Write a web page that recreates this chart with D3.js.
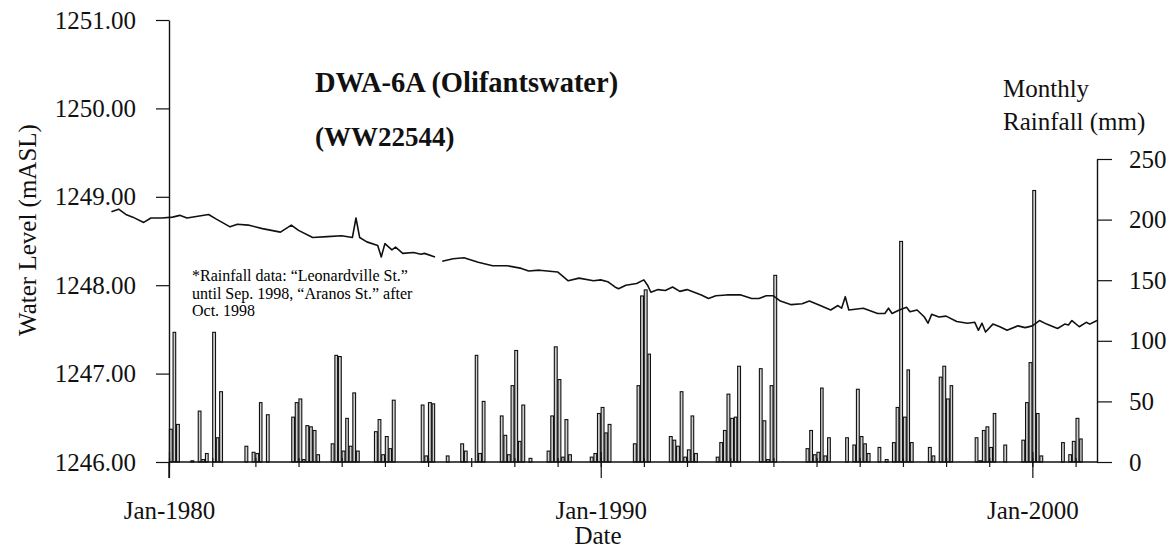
<!DOCTYPE html>
<html>
<head>
<meta charset="utf-8">
<title>DWA-6A (Olifantswater)</title>
<style>
  body { margin: 0; background: #fff; }
  svg text { font-family: "Liberation Serif", "DejaVu Serif", serif; fill: #111; }
</style>
</head>
<body>
<svg width="1176" height="551"></svg>
<script src="https://d3js.org/d3.v7.min.js"></script>
<script>

// monthly rainfall (mm), one row per year, Jan..Dec, starting Jan 1980
var rainStart = "1980-01";
var rainfall = [
  27,107, 31,  0,  0,  0,  1,  0, 42,  2,  7,  0,   // 1980
 107, 20, 58,  0,  0,  0,  0,  0,  0, 13,  0,  8,   // 1981
   7, 49,  0, 39,  0,  0,  0,  0,  0,  0, 37, 49,   // 1982
  52,  2, 30, 29, 26,  6,  0,  0,  0, 15, 88, 87,   // 1983
   9, 36, 13, 57,  9,  0,  0,  0,  0, 25, 35,  6,   // 1984
  21, 11, 51,  0,  0,  0,  0,  0,  0,  0, 47,  5,   // 1985
  49, 48,  0,  0,  0,  5,  0,  0,  0, 15,  9,  0,   // 1986
   0, 88,  7, 50,  0,  0,  0,  0, 38, 22,  6, 63,   // 1987
  92, 17, 47,  0,  3,  0,  0,  0,  0,  9, 38, 95,   // 1988
  68,  4, 35,  6,  0,  0,  0,  0,  0,  4,  7, 40,   // 1989
  45, 24, 31,  0,  0,  0,  0,  0,  0, 15, 63,137,   // 1990
 142, 89,  0,  0,  0,  0,  0, 21, 18, 13, 58,  4,   // 1991
  10, 38,  7,  0,  0,  0,  0,  0,  4, 16, 26, 56,   // 1992
  36, 37, 79,  0,  0,  0,  0,  0, 77, 34,  2, 63,   // 1993
 154,  0,  0,  0,  0,  0,  0,  0,  0, 11, 26,  6,   // 1994
   8, 61,  5, 20,  0,  0,  0,  0, 20,  0, 14, 60,   // 1995
  21, 15,  7,  0,  0, 12,  0,  2,  0, 16, 45,182,   // 1996
  37, 76, 16,  0,  0,  0,  0, 12,  5,  0, 70, 79,   // 1997
  52, 63,  0,  0,  0,  0,  0,  0, 20,  1, 26, 29,   // 1998
  12, 40,  0,  0, 14,  0,  0,  0,  0, 18, 49, 82,   // 1999
 224, 40,  5,  0,  0,  0,  0,  0, 16,  0,  6, 17,   // 2000
  36, 19,  0,  0,  0,  0                            // 2001
];

// water level (mASL); null = no reading
var levelDates = [
  "1978-09","1978-11","1979-01","1979-03","1979-06","1979-08","1979-11",
  "1980-02","1980-04","1980-06","1980-09","1980-12","1981-02","1981-06","1981-08","1981-11",
  "1982-03","1982-08","1982-11","1983-01","1983-05","1983-09","1984-01","1984-04","1984-05",
  "1984-06","1984-08","1984-11","1984-12","1985-01","1985-03","1985-04","1985-06","1985-09",
  "1985-11","1985-12","1986-03","1986-04","1986-05","1986-08","1986-11","1987-03","1987-07",
  "1987-11","1988-03","1988-05","1988-08","1989-01","1989-04","1989-07","1989-11","1990-01",
  "1990-03","1990-05","1990-06","1990-08","1990-11","1991-01","1991-02","1991-03","1991-05",
  "1991-07","1991-09","1991-11","1992-01","1992-05","1992-07","1992-09","1992-12","1993-04",
  "1993-07","1993-09","1993-11","1994-01","1994-03","1994-06","1994-09","1994-11","1995-02",
  "1995-05","1995-07","1995-08","1995-09","1995-10","1996-02","1996-06","1996-08","1996-09",
  "1996-10","1996-12","1997-02","1997-03","1997-05","1997-07","1997-08","1997-09","1997-11",
  "1998-01","1998-04","1998-07","1998-09","1998-10","1998-11","1998-12","1999-02","1999-04",
  "1999-06","1999-09","1999-11","2000-01","2000-03","2000-05","2000-08","2000-10","2000-11",
  "2000-12","2001-02","2001-04","2001-05","2001-07"
];
var levelValues = [
  1248.83,1248.86,1248.80,1248.77,1248.71,1248.76,1248.76,
  1248.77,1248.79,1248.76,1248.78,1248.80,1248.75,1248.66,1248.69,1248.68,
  1248.64,1248.60,1248.68,1248.62,1248.54,1248.55,1248.56,1248.54,1248.76,
  1248.54,1248.49,1248.45,1248.32,1248.47,1248.40,1248.43,1248.36,1248.37,
  1248.35,1248.36,1248.32,null,1248.27,1248.30,1248.31,1248.26,1248.22,
  1248.22,1248.19,1248.16,1248.17,1248.15,1248.05,1248.08,1248.05,1248.06,
  1248.04,1247.98,1247.96,1248.00,1248.02,1248.06,1248.00,1247.92,1247.95,
  1247.94,1247.98,1247.93,1247.95,1247.89,1247.85,1247.88,1247.89,1247.89,
  1247.85,1247.85,1247.88,1247.88,1247.82,1247.78,1247.79,1247.82,1247.77,
  1247.72,1247.77,1247.74,1247.87,1247.72,1247.74,1247.68,1247.68,1247.74,
  1247.68,1247.72,1247.75,1247.70,1247.72,1247.64,1247.57,1247.67,1247.64,
  1247.65,1247.59,1247.57,1247.58,1247.49,1247.57,1247.47,1247.56,1247.53,
  1247.49,1247.54,1247.52,1247.54,1247.60,1247.56,1247.51,1247.56,1247.55,
  1247.60,1247.53,1247.58,1247.56,1247.60
];

var levelTicks = [1246, 1247, 1248, 1249, 1250, 1251];
var rainTicks = [0, 50, 100, 150, 200, 250];
var dateLabels = ["1980-01", "1990-01", "2000-01"];
var noteLines = [
  "*Rainfall data: \u201cLeonardville St.\u201d",
  "until Sep. 1998,  \u201cAranos St.\u201d after",
  "Oct. 1998"
];

var parseMonth = d3.timeParse("%Y-%m");
var svg = d3.select("svg");

var x = d3.scaleTime()
    .domain([new Date(1980, 0, 1), new Date(2001, 6, 1)])
    .range([169, 1097]);
var yLevel = d3.scaleLinear().domain([1246, 1251]).range([462, 20]);
var yRain = d3.scaleLinear().domain([0, 250]).range([462, 159]);

var start = parseMonth(rainStart);
var rain = rainfall.map(function(v, i) {
  var d0 = d3.timeMonth.offset(start, i);
  return { d0: d0, d1: d3.timeMonth.offset(d0, 1), mm: v };
});
var levels = levelDates.map(function(s, i) {
  return { date: parseMonth(s), level: levelValues[i] };
});

// rainfall bars
svg.append("g").selectAll("rect")
  .data(rain.filter(function(d) { return d.mm > 0; }))
  .enter().append("rect")
    .attr("x", function(d) { return x(d.d0) + 0.4; })
    .attr("width", function(d) { return x(d.d1) - x(d.d0) - 0.8; })
    .attr("y", function(d) { return yRain(d.mm); })
    .attr("height", function(d) { return yRain(0) - yRain(d.mm); })
    .attr("fill", "#cfcfcf")
    .attr("stroke", "#111")
    .attr("stroke-width", 1.1);

// baseline
svg.append("line")
    .attr("x1", x.range()[0]).attr("x2", x.range()[1])
    .attr("y1", yRain(0)).attr("y2", yRain(0))
    .attr("stroke", "#111").attr("stroke-width", 1.4);

// water level
var line = d3.line()
    .defined(function(d) { return d.level != null; })
    .x(function(d) { return x(d.date); })
    .y(function(d) { return yLevel(d.level); });

svg.append("path")
    .datum(levels)
    .attr("d", line)
    .attr("fill", "none")
    .attr("stroke", "#111")
    .attr("stroke-width", 1.6)
    .attr("stroke-linejoin", "round");

// left axis
var left = svg.append("g").attr("transform", "translate(169,0)");
left.call(d3.axisLeft(yLevel).tickValues(d3.range(1246.5, 1251, 1)).tickSize(6).tickSizeOuter(0).tickFormat(""));
left.call(d3.axisLeft(yLevel).tickValues(levelTicks).tickSize(13).tickSizeOuter(0).tickPadding(20)
    .tickFormat(d3.format(".2f")));
left.selectAll("text").style("font-size", "25px").style("font-family", "Liberation Serif");
left.append("line").attr("y1", yLevel(1246)).attr("y2", 478).attr("stroke", "#111").attr("stroke-width", 1.4);

// right axis
var right = svg.append("g").attr("transform", "translate(1097,0)");
right.call(d3.axisRight(yRain).tickValues(d3.range(25, 250, 50)).tickSize(7).tickSizeOuter(0).tickFormat(""));
right.call(d3.axisRight(yRain).tickValues(rainTicks).tickSize(15).tickSizeOuter(0).tickPadding(17));
right.selectAll("text").style("font-size", "25px").style("font-family", "Liberation Serif");

// date axis: yearly minor ticks crossing the baseline, long ticks at labelled years
var bottom = svg.append("g").attr("transform", "translate(0," + yRain(0) + ")");
bottom.call(d3.axisBottom(x).ticks(d3.timeYear.every(1)).tickSize(5).tickSizeOuter(0).tickFormat(""));
bottom.selectAll(".tick line").attr("y1", -4);
var labelled = svg.append("g").attr("transform", "translate(0," + yRain(0) + ")");
labelled.call(d3.axisBottom(x).tickValues(dateLabels.map(parseMonth)).tickSize(16).tickSizeOuter(0)
    .tickPadding(23).tickFormat(d3.timeFormat("Jan-%Y")));
labelled.selectAll(".tick line").attr("y1", -10);
labelled.selectAll("text").style("font-size", "25px").style("font-family", "Liberation Serif");

svg.selectAll(".domain").attr("stroke", "#111").attr("stroke-width", 1.4);
svg.selectAll(".tick line").attr("stroke", "#111").attr("stroke-width", 1.2);
svg.selectAll(".tick text").attr("fill", "#111");
labelled.select(".domain").remove();
bottom.select(".domain").remove();

// titles and labels
svg.append("text").attr("x", 315).attr("y", 92)
    .style("font-size", "28.5px").style("font-weight", "bold").text("DWA-6A (Olifantswater)");
svg.append("text").attr("x", 315).attr("y", 146)
    .style("font-size", "27px").style("font-weight", "bold").text("(WW22544)");

svg.append("text")
    .attr("transform", "translate(36,230) rotate(-90)")
    .attr("text-anchor", "middle")
    .style("font-size", "25px")
    .text("Water Level (mASL)");

svg.append("text").attr("x", 1003).attr("y", 97).style("font-size", "25px").text("Monthly");
svg.append("text").attr("x", 1003).attr("y", 130).style("font-size", "25px").text("Rainfall (mm)");

svg.append("text").attr("x", 598).attr("y", 544).attr("text-anchor", "middle")
    .style("font-size", "25px").text("Date");

svg.append("g").selectAll("text")
  .data(noteLines)
  .enter().append("text")
    .attr("x", 192)
    .attr("y", function(d, i) { return 281 + i * 17.5; })
    .style("font-size", "16px")
    .style("fill", "#000")
    .text(function(d) { return d; });

</script>
</body>
</html>
